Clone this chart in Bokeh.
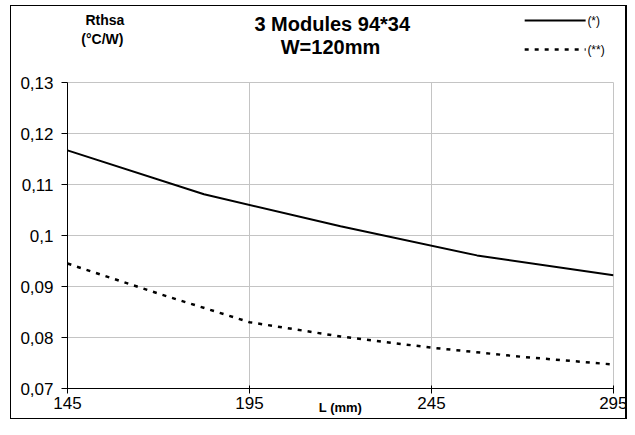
from bokeh.plotting import figure
from bokeh.layouts import column
from bokeh.models import Range1d, FixedTicker
from bokeh.core.properties import value
from bokeh.embed import file_html
from bokeh.resources import INLINE

# ---- data ----
L_solid = [145, 182.5, 220, 257.5, 295]
R_solid = [0.1167, 0.1081, 0.1018, 0.0961, 0.0922]
L_dash = [145, 170, 195, 220, 245, 270, 295]
R_dash = [0.0945, 0.0886, 0.0830, 0.0802, 0.0780, 0.0762, 0.0747]
x_ticks = [145, 195, 245, 295]
y_ticks = [0.07, 0.08, 0.09, 0.10, 0.11, 0.12, 0.13]
y_tick_labels = ["0,07", "0,08", "0,09", "0,1", "0,11", "0,12", "0,13"]
title_lines = ["3 Modules 94*34", "W=120mm"]
y_title = ["Rthsa", "(°C/W)"]
x_title = "L (mm)"
legend_labels = ["(*)", "(**)"]

FONT = "Liberation Sans"
W, H = 627, 419
HEAD = 70                      # header strip height (titles, legend)
FL, FR, FT, FB = 67, 613, 82, 388   # plot frame in page pixels
SOLID = dict(line_color="black", line_width=2)
DASHED = dict(line_color="black", line_width=2.5, line_dash="4 6")

# ---------------- header (titles + legend) ----------------
head = figure(width=W, height=HEAD, output_backend="svg", toolbar_location=None,
              x_range=Range1d(0, W), y_range=Range1d(HEAD, 0),
              x_axis_type=None, y_axis_type=None, title=None,
              min_border=0, min_border_left=0, min_border_right=0,
              min_border_top=0, min_border_bottom=0)
head.grid.visible = False
head.outline_line_color = None
head.border_fill_alpha = 0
head.background_fill_alpha = 0

head.text(x=[304, 302], y=[23, 46], text=title_lines,
          text_font=value(FONT), text_font_size=value("20px"),
          text_font_style="bold", text_align="center", text_baseline="middle",
          text_color="black")
head.text(x=[43, 40], y=[19, 38], text=y_title,
          text_font=value(FONT), text_font_size=value("14px"),
          text_font_style="bold", text_align="center", text_baseline="middle",
          text_color="black")
# legend keys
LEG_X0, LEG_X1, LEG_Y = 525, 595, [20, 49]
head.line([LEG_X0, LEG_X1], [LEG_Y[0], LEG_Y[0]], **SOLID)
head.line([LEG_X0, LEG_X1], [LEG_Y[1], LEG_Y[1]], **DASHED)
head.text(x=[LEG_X1 + 2, LEG_X1 + 2], y=LEG_Y, text=legend_labels,
          text_font=value(FONT), text_font_size=value("12px"),
          text_align="left", text_baseline="middle", text_color="black")

# ---------------- main chart ----------------
MH = H - HEAD
p = figure(width=W, height=MH, output_backend="svg", toolbar_location=None,
           x_range=Range1d(145, 295), y_range=Range1d(0.07, 0.13), title=None,
           min_border_left=FL, min_border_right=W - FR,
           min_border_top=FT - HEAD, min_border_bottom=H - FB)
p.outline_line_color = "#c4c4c4"
p.background_fill_color = "white"
p.border_fill_alpha = 0

p.line(L_solid, R_solid, **SOLID)
p.line(L_dash, R_dash, **DASHED)

p.xaxis.ticker = FixedTicker(ticks=x_ticks)
p.yaxis.ticker = FixedTicker(ticks=y_ticks)
p.xgrid.ticker = FixedTicker(ticks=x_ticks)
p.ygrid.ticker = FixedTicker(ticks=y_ticks)
p.yaxis.major_label_overrides = dict(zip(y_ticks, y_tick_labels))
for ax in (p.xaxis[0], p.yaxis[0]):
    ax.axis_line_color = "black"
    ax.axis_line_width = 1
    ax.major_tick_line_color = "black"
    ax.minor_tick_line_color = None
    ax.major_label_text_font = FONT
    ax.major_label_text_font_size = "17px"
    ax.major_label_text_color = "black"
p.xaxis.major_tick_out = 5
p.xaxis.major_tick_in = 3
p.xaxis.major_label_standoff = 3
p.xaxis.axis_label = x_title
p.xaxis.axis_label_text_font = FONT
p.xaxis.axis_label_text_font_size = "13px"
p.xaxis.axis_label_text_font_style = "bold"
p.xaxis.axis_label_text_color = "black"
p.xaxis.axis_label_standoff = -12
p.yaxis.major_tick_out = 6
p.yaxis.major_tick_in = 0
p.yaxis.major_label_standoff = 8

for g in (p.xgrid[0], p.ygrid[0]):
    g.grid_line_color = "#c4c4c4"
    g.grid_line_width = 1

layout = column(head, p, spacing=0)
bar = "linear-gradient(#000,#000)"
layout.styles = {
    "background": ", ".join([
        f"{bar} 10px 5px / 1px {H - 5}px no-repeat",
        f"{bar} 10px 5px / {W - 10}px 1px no-repeat",
        f"{bar} {W - 2}px 5px / 2px {H - 5}px no-repeat",
        f"{bar} 10px {H - 1}px / {W - 10}px 1px no-repeat",
    ]) + ", white",
}

open("out.html", "w").write(file_html(layout, INLINE))
